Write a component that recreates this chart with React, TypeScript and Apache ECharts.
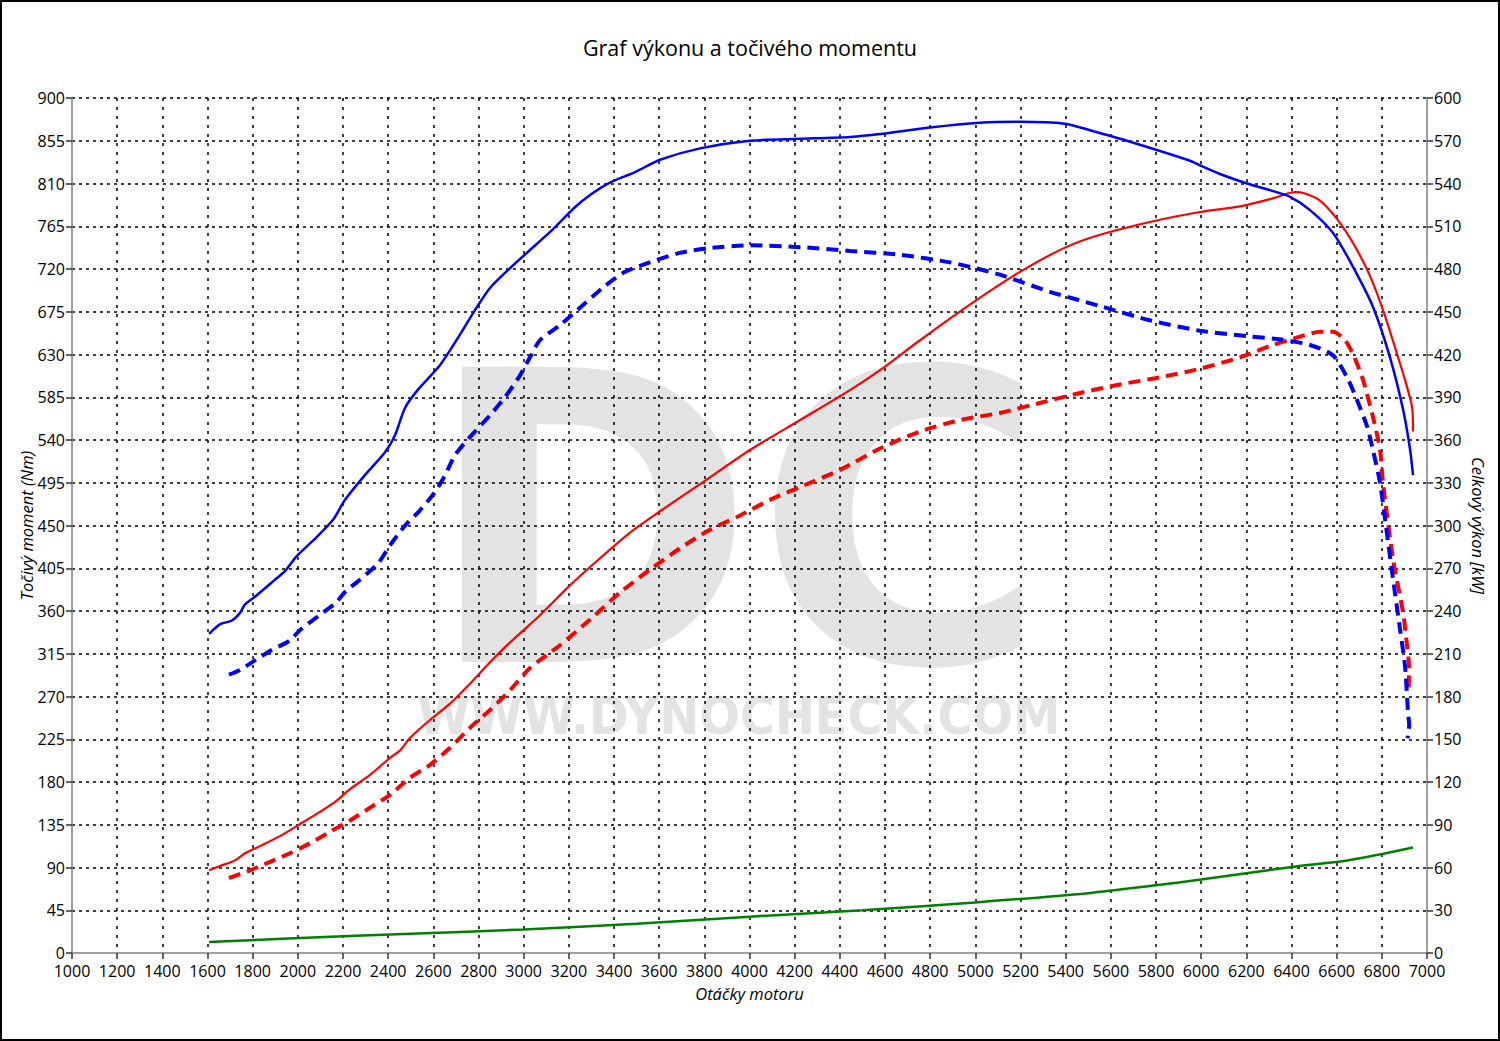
import React, { useEffect, useRef } from "react";
import * as echarts from "echarts";

// ---- data ----
const title = "Graf výkonu a točivého momentu";
const xName = "Otáčky motoru";
const yLeftName = "Točivý moment (Nm)";
const yRightName = "Celkový výkon [kW]";

// tuned torque (Nm) - blue solid
const tqTunedRpm = [1607, 1655, 1708, 1744, 1766, 1810, 1899, 1943, 1996, 2067, 2156, 2209, 2297, 2386, 2430, 2475, 2532, 2630, 2718, 2785, 2851, 2940, 3028, 3117, 3227, 3294, 3382, 3493, 3604, 3781, 4002, 4224, 4445, 4578, 4799, 5021, 5198, 5397, 5508, 5685, 5951, 5995, 6083, 6203, 6305, 6394, 6482, 6584, 6673, 6761, 6836, 6894, 6925, 6938];
const tqTunedNm = [336, 346, 350, 358, 367, 375, 393, 402, 418, 434, 456, 477, 503, 527, 545, 574, 593, 619, 651, 677, 700, 721, 740, 759, 785, 798, 811, 822, 835, 847, 855, 857, 859, 862, 869, 874, 875, 873, 866, 854, 834, 829, 820, 810, 803, 796, 782, 758, 722, 680, 627, 572, 530, 503];

// tuned power (kW) - red solid
const pwTunedRpm = [1607, 1655, 1722, 1766, 1832, 1921, 2010, 2098, 2165, 2231, 2320, 2408, 2452, 2497, 2585, 2674, 2762, 2851, 2940, 3072, 3205, 3338, 3471, 3604, 3781, 4002, 4224, 4445, 4578, 4755, 4976, 5198, 5397, 5552, 5773, 5995, 6172, 6305, 6394, 6416, 6460, 6526, 6602, 6677, 6748, 6810, 6868, 6903, 6934, 6938];
const pwTunedKw = [58, 61, 65, 70, 75, 82, 90.5, 99, 106, 115, 125, 137, 142, 151, 163.5, 175, 189, 204, 218, 237, 258, 277, 295, 310, 329, 353, 374, 395, 409, 430, 455, 478, 495, 504, 513, 520, 524, 529, 533.5, 534, 533, 528, 515, 497, 475, 449, 420, 402, 383, 366];

// stock torque (Nm) - blue dashed
const tqStockRpm = [1695, 1744, 1810, 1877, 1965, 2010, 2098, 2165, 2209, 2275, 2355, 2408, 2475, 2541, 2607, 2652, 2696, 2762, 2851, 2917, 2984, 3028, 3072, 3161, 3272, 3360, 3449, 3559, 3692, 3825, 4002, 4224, 4445, 4666, 4888, 4998, 5109, 5331, 5552, 5773, 5995, 6216, 6348, 6482, 6584, 6646, 6690, 6735, 6761, 6792, 6819, 6850, 6881, 6903, 6916, 6921, 6914];
const tqStockNm = [293, 298, 308, 318, 329, 340, 356, 368, 380, 393, 410, 429, 450, 466, 485, 503, 524, 543, 566, 585, 608, 627, 645, 661, 684, 702, 717, 727, 737, 742, 745, 743, 739, 735, 727, 721, 714, 696, 681, 666, 655, 649, 646, 640, 629, 606, 582, 554, 529, 495, 448, 393, 340, 301, 253, 240, 226];

// stock power (kW) - red dashed
const pwStockRpm = [1695, 1788, 1877, 1965, 2054, 2142, 2231, 2320, 2408, 2497, 2585, 2674, 2762, 2851, 2940, 3028, 3161, 3294, 3427, 3559, 3692, 3825, 3958, 4091, 4224, 4401, 4578, 4755, 4932, 5109, 5286, 5464, 5641, 5818, 5995, 6172, 6305, 6438, 6526, 6584, 6637, 6673, 6715, 6761, 6792, 6805, 6850, 6894, 6912, 6921, 6918];
const pwStockKw = [52.6, 58, 64, 70, 77, 85, 93, 102, 111, 123, 132, 144, 158, 170.5, 184.5, 200, 216, 234, 253, 269, 284, 297, 307, 318, 327, 339, 354, 366, 374, 379, 386, 393, 399, 404, 410, 418, 426, 432.5, 436, 436, 430, 420, 403, 376, 353, 330, 276, 239, 215, 200, 182];

// loss power (kW) - green
const lossRpm = [1607, 2010, 2500, 3000, 3500, 4002, 4500, 5000, 5500, 5800, 6000, 6400, 6660, 6938];
const lossKw = [7.7, 10.5, 13.5, 16.5, 20.5, 25.5, 30, 35.5, 42, 47.5, 51.5, 60.4, 65.3, 74];

const zip = (xs: number[], ys: number[]) => xs.map((x, i) => [x, ys[i]]);

const FONT = "'Open Sans', 'Noto Sans', sans-serif";
const WM_FONT = "'DejaVu Sans Condensed', 'DejaVu Sans', sans-serif";

export default function App() {
  const ref = useRef<HTMLDivElement>(null);
  useEffect(() => {
    const chart = echarts.init(ref.current!, undefined, { renderer: "svg" });
    const tick = { show: true, length: 6, lineStyle: { color: "#333", width: 1.5 } };
    const axisLine = { show: true, lineStyle: { color: "#808080", width: 1.5 } };
    const nameStyle = { fontFamily: FONT, fontSize: 16.5, fontStyle: "italic", color: "#000" };
    chart.setOption({
      animation: false,
      backgroundColor: "#fff",
      textStyle: { fontFamily: FONT },
      title: {
        text: title,
        left: "center",
        top: 31,
        textStyle: { fontFamily: FONT, fontSize: 21.5, fontWeight: "normal", color: "#000" },
      },
      grid: { left: 72, right: 73, top: 98, bottom: 88 },
      graphic: [
        {
          type: "text",
          z: -10,
          x: 736,
          y: 522,
          scaleX: 1.09,
          style: {
            text: "DC",
            fill: "#e3e3e3",
            font: `bold 405px ${WM_FONT}`,
            align: "center",
            verticalAlign: "middle",
          },
        },
        {
          type: "text",
          z: -10,
          x: 739,
          y: 716,
          scaleX: 1.02,
          style: {
            text: "WWW.DYNOCHECK.COM",
            fill: "#e3e3e3",
            font: `bold 52px ${WM_FONT}`,
            align: "center",
            verticalAlign: "middle",
          },
        },
        {
          type: "rect",
          z: 100,
          shape: { x: 1, y: 1, width: 1498, height: 1039 },
          style: { fill: "none", stroke: "#000", lineWidth: 2 },
        },
      ],
      xAxis: {
        type: "value",
        min: 1000,
        max: 7000,
        interval: 200,
        name: xName,
        nameLocation: "middle",
        nameGap: 32,
        nameTextStyle: nameStyle,
        axisLine,
        axisTick: tick,
        axisLabel: { fontFamily: FONT, fontSize: 16, color: "#000", margin: 10, formatter: (v: number) => String(v) },
        splitLine: { show: true, showMinLine: false, showMaxLine: false, lineStyle: { color: "#000", width: 1.5, type: [3, 6] } },
      },
      yAxis: [
        {
          type: "value",
          min: 0,
          max: 900,
          interval: 45,
          name: yLeftName,
          nameLocation: "middle",
          nameRotate: 90,
          nameGap: 37,
          nameMoveOverlap: false,
          nameTextStyle: nameStyle,
          axisLine,
          axisTick: tick,
          axisLabel: { fontFamily: FONT, fontSize: 16, color: "#000", margin: 7 },
          splitLine: { show: true, showMinLine: false, lineStyle: { color: "#000", width: 1.5, type: [3, 4] } },
        },
        {
          type: "value",
          min: 0,
          max: 600,
          interval: 30,
          position: "right",
          name: yRightName,
          nameLocation: "middle",
          nameRotate: -90,
          nameGap: 43,
          nameMoveOverlap: false,
          nameTextStyle: nameStyle,
          axisLine,
          axisTick: tick,
          axisLabel: { fontFamily: FONT, fontSize: 16, color: "#000", margin: 7 },
          splitLine: { show: false },
        },
      ],
      series: [
        {
          type: "line",
          yAxisIndex: 1,
          data: zip(lossRpm, lossKw),
          showSymbol: false,
          smooth: 0.3,
          lineStyle: { color: "#008000", width: 2.5 },
          z: 3,
        },
        {
          type: "line",
          yAxisIndex: 1,
          data: zip(pwStockRpm, pwStockKw),
          showSymbol: false,
          smooth: 0.25,
          lineStyle: { color: "#ff0000", width: 4, type: [12, 7] },
          z: 4,
        },
        {
          type: "line",
          yAxisIndex: 0,
          data: zip(tqStockRpm, tqStockNm),
          showSymbol: false,
          smooth: 0.25,
          lineStyle: { color: "#0000ff", width: 4, type: [12, 7] },
          z: 5,
        },
        {
          type: "line",
          yAxisIndex: 1,
          data: zip(pwTunedRpm, pwTunedKw),
          showSymbol: false,
          smooth: 0.25,
          lineStyle: { color: "#ff0000", width: 2.2 },
          z: 6,
        },
        {
          type: "line",
          yAxisIndex: 0,
          data: zip(tqTunedRpm, tqTunedNm),
          showSymbol: false,
          smooth: 0.25,
          lineStyle: { color: "#0000ff", width: 2.5 },
          z: 7,
        },
      ],
    });
    return () => chart.dispose();
  }, []);
  return (
    <div
      ref={ref}
      style={{ position: "absolute", left: 0, top: 0, width: 1500, height: 1041 }}
    />
  );
}
